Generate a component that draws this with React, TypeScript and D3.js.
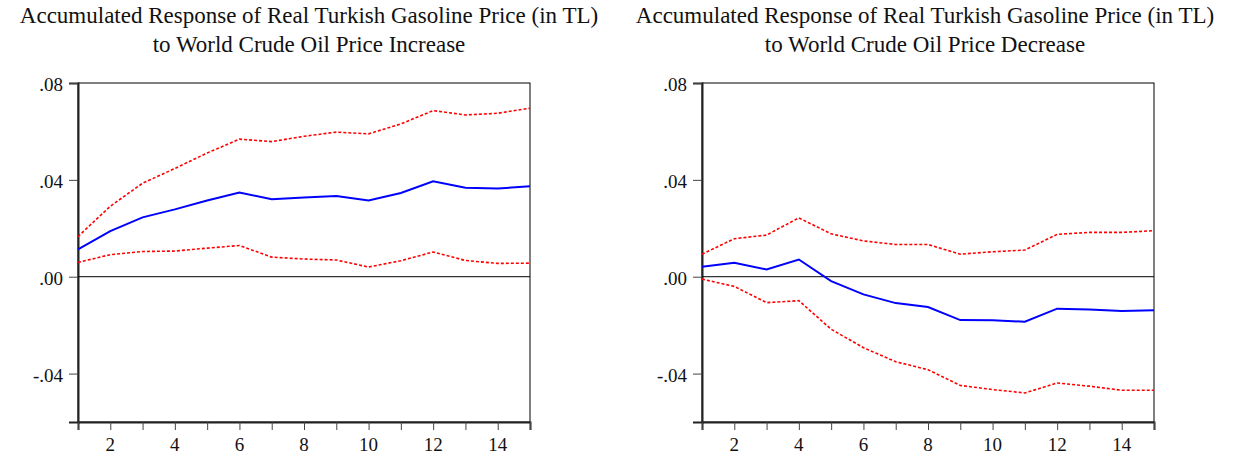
import { useEffect, useRef } from "react";
import * as d3 from "d3";

const periods = d3.range(1, 16);

const incResponse = [0.0113, 0.0188, 0.0245, 0.0278, 0.0315, 0.0348, 0.032, 0.0327, 0.0333, 0.0315, 0.0346, 0.0394, 0.0367, 0.0364, 0.0374];
const incUpper = [0.0166, 0.0291, 0.0386, 0.0447, 0.0511, 0.0568, 0.0558, 0.058, 0.0597, 0.059, 0.0631, 0.0686, 0.0668, 0.0675, 0.0696];
const incLower = [0.0059, 0.0091, 0.0104, 0.0106, 0.0118, 0.0129, 0.0081, 0.0073, 0.0069, 0.004, 0.0066, 0.0102, 0.0067, 0.0055, 0.0056];

const decResponse = [0.0041, 0.0058, 0.003, 0.0071, -0.0018, -0.0073, -0.0109, -0.0125, -0.0179, -0.018, -0.0186, -0.0132, -0.0135, -0.0142, -0.0139];
const decUpper = [0.0093, 0.0157, 0.0172, 0.0243, 0.0177, 0.0148, 0.0133, 0.0133, 0.0093, 0.0103, 0.011, 0.0175, 0.0183, 0.0183, 0.019];
const decLower = [-0.001, -0.004, -0.0107, -0.0099, -0.0217, -0.0293, -0.0351, -0.0384, -0.0449, -0.0466, -0.048, -0.0439, -0.0452, -0.0469, -0.0469];

const yTicks = [-0.04, 0, 0.04, 0.08];
const yTickLabels = ["-.04", ".00", ".04", ".08"];
const xLabelTicks = [2, 4, 6, 8, 10, 12, 14];

const titleLine1 = "Accumulated Response of Real Turkish Gasoline Price (in TL)";

interface PanelProps {
  left: number;
  titleX: number;
  subtitle: string;
  response: number[];
  upper: number[];
  lower: number[];
}

const FONT = "Liberation Serif, Times New Roman, serif";

const Panel: React.FC<PanelProps> = ({ left, titleX, subtitle, response, upper, lower }) => {
  const ref = useRef<SVGGElement>(null);

  useEffect(() => {
    if (!ref.current) return;
    const g = d3.select(ref.current);
    g.selectAll("*").remove();

    const width = 452;
    const top = 83;
    const bottom = 422;

    const x = d3.scaleLinear().domain([1, 15]).range([left, left + width]);
    const y = d3.scaleLinear().domain([-0.06, 0.08]).range([bottom, top]);

    // titles
    [titleLine1, subtitle].forEach((t, i) => {
      g.append("text")
        .attr("x", titleX)
        .attr("y", 22.5 + i * 29)
        .attr("text-anchor", "middle")
        .attr("font-family", FONT)
        .attr("font-size", 23)
        .attr("fill", "#111")
        .text(t);
    });

    // frame
    g.append("rect")
      .attr("x", left)
      .attr("y", top)
      .attr("width", width)
      .attr("height", bottom - top)
      .attr("fill", "none")
      .attr("stroke", "#000")
      .attr("stroke-width", 1);

    // y axis
    const yAxis = g
      .append("g")
      .attr("transform", `translate(${left},0)`)
      .call(
        d3
          .axisLeft(y)
          .tickValues(yTicks)
          .tickSize(9)
          .tickPadding(6)
          .tickFormat((_, i) => yTickLabels[i])
      );
    yAxis.attr("font-family", FONT).attr("font-size", 19);
    yAxis.select(".domain").attr("stroke", "#222").attr("stroke-width", 2);
    yAxis.selectAll("line").attr("stroke", "#444");
    yAxis.selectAll("text").attr("fill", "#111").attr("dy", "0.4em");

    // x axis
    const xAxis = g
      .append("g")
      .attr("transform", `translate(0,${bottom})`)
      .call(d3.axisBottom(x).tickValues(periods).tickSize(8).tickFormat(() => ""));
    xAxis.select(".domain").attr("stroke", "#222").attr("stroke-width", 2);
    xAxis.selectAll("line").attr("stroke", "#444");
    g.append("g")
      .attr("font-family", FONT)
      .attr("font-size", 19)
      .selectAll("text")
      .data(xLabelTicks)
      .enter()
      .append("text")
      .attr("x", d => x(d))
      .attr("y", bottom + 29)
      .attr("text-anchor", "middle")
      .attr("fill", "#111")
      .text(d => d);

    // zero line
    g.append("line")
      .attr("x1", left)
      .attr("x2", left + width)
      .attr("y1", y(0))
      .attr("y2", y(0))
      .attr("stroke", "#000")
      .attr("stroke-width", 1);

    const line = d3
      .line<number>()
      .x((_, i) => x(periods[i]))
      .y(d => y(d));

    [upper, lower].forEach(band => {
      g.append("path")
        .datum(band)
        .attr("fill", "none")
        .attr("stroke", "#ff0000")
        .attr("stroke-width", 1.6)
        .attr("stroke-dasharray", "3,2")
        .attr("d", line);
    });

    g.append("path")
      .datum(response)
      .attr("fill", "none")
      .attr("stroke", "#0000ff")
      .attr("stroke-width", 2)
      .attr("d", line);
  }, [left, titleX, subtitle, response, upper, lower]);

  return <g ref={ref} />;
};

export default function App() {
  return (
    <svg
      width={1241}
      height={459}
      style={{ position: "absolute", left: 0, top: 0, background: "#fff" }}
    >
      <rect width={1241} height={459} fill="#fff" />
      <Panel
        left={78}
        titleX={309}
        subtitle="to World Crude Oil Price Increase"
        response={incResponse}
        upper={incUpper}
        lower={incLower}
      />
      <Panel
        left={702}
        titleX={925}
        subtitle="to World Crude Oil Price Decrease"
        response={decResponse}
        upper={decUpper}
        lower={decLower}
      />
    </svg>
  );
}
